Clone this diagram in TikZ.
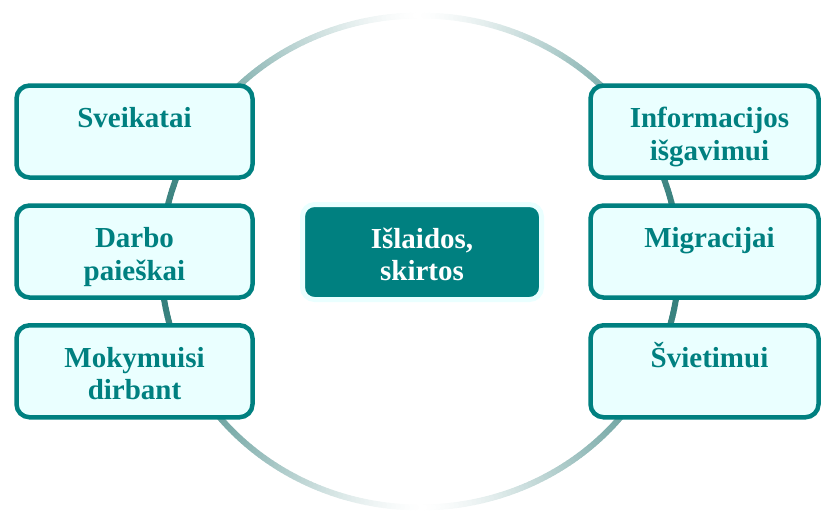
\documentclass[tikz,border=0pt]{standalone}
\usepackage{fontspec}
\setmainfont{Liberation Serif}
\definecolor{tealc}{RGB}{0,128,128}
\definecolor{boxfill}{RGB}{234,255,255}
\definecolor{ringc}{RGB}{50,125,122}
\begin{document}
\begin{tikzpicture}[x=1pt,y=-1pt,
  sidebox/.style={draw=tealc, line width=4.5pt, fill=boxfill, rounded corners=13pt,
    inner sep=0pt, minimum height=92pt},
  leftbox/.style={sidebox, minimum width=236pt},
  rightbox/.style={sidebox, minimum width=228pt},
  centerbox/.style={draw=boxfill, line width=5pt, fill=tealc, rounded corners=12pt,
    inner sep=0pt, minimum width=239pt, minimum height=95pt},
  lbl/.style={anchor=north, align=center, inner sep=0pt, text=tealc,
    font=\fontsize{29}{32.5}\selectfont\bfseries},
  clbl/.style={lbl, text=white}]
\useasboundingbox (0,0) rectangle (822,512);
% gradient ring
\foreach \a in {0,...,359}{
  \pgfmathsetmacro\f{100*abs(cos(\a+0.5))^1.5}
  \draw[line width=6pt, line cap=round, draw=ringc!\f!white]
    ({420+259*cos(\a)},{261.5+246*sin(\a)}) -- ({420+259*cos(\a+1)},{261.5+246*sin(\a+1)});
}
% left boxes
\node[leftbox] (l1) at (134.5,131.5) {};
\node[leftbox] (l2) at (134.5,251.5) {};
\node[leftbox] (l3) at (134.5,371.25) {};
% right boxes
\node[rightbox] (r1) at (704.5,131.5) {};
\node[rightbox] (r2) at (704.5,251.5) {};
\node[rightbox] (r3) at (704.5,371.25) {};
% center box
\node[centerbox] (c) at (422,252) {};
% labels
\node[lbl] (tl1) at (134.5,99.5) {\rule{0pt}{28pt}Sveikatai};
\node[lbl] (tl2) at (134.5,219.5) {\rule{0pt}{28pt}Darbo\\paieškai};
\node[lbl] (tl3) at (134.5,339) {\rule{0pt}{28pt}Mokymuisi\\dirbant};
\node[lbl] (tr1) at (709.5,99.5) {\rule{0pt}{28pt}Informacijos\\išgavimui};
\node[lbl] (tr2) at (709.5,219.5) {\rule{0pt}{28pt}Migracijai};
\node[lbl] (tr3) at (709.5,339) {\rule{0pt}{28pt}Švietimui};
\node[clbl] (tc) at (422,220) {\rule{0pt}{28pt}Išlaidos,\\skirtos};
\end{tikzpicture}
\end{document}
